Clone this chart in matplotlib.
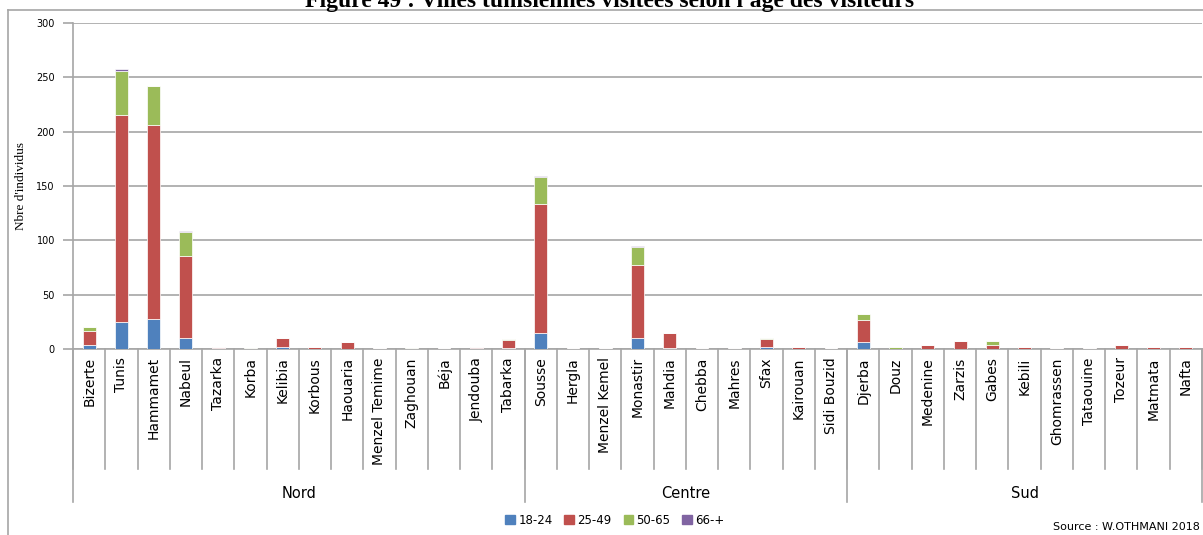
import matplotlib.pyplot as plt
import numpy as np
from matplotlib.lines import Line2D
from matplotlib.transforms import blended_transform_factory

# villes par région
nord = ['Bizerte', 'Tunis', 'Hammamet', 'Nabeul', 'Tazarka', 'Korba', 'Kelibia', 'Korbous',
        'Haouaria', 'Menzel Temime', 'Zaghouan', 'Béja', 'Jendouba', 'Tabarka']
centre = ['Sousse', 'Hergla', 'Menzel Kemel', 'Monastir', 'Mahdia', 'Chebba', 'Mahres',
          'Sfax', 'Kairouan', 'Sidi Bouzid']
sud = ['Djerba', 'Douz', 'Medenine', 'Zarzis', 'Gabes', 'Kebili', 'Ghomrassen', 'Tataouine',
       'Tozeur', 'Matmata', 'Nafta']
regions = ['Nord', 'Centre', 'Sud']

age_18_24 = [4, 25, 28, 10, 1, 0, 2, 0, 0, 0, 0, 0, 1, 1,
             15, 0, 0, 10, 1, 0, 0, 2, 0, 0,
             6, 0, 0, 0, 0, 0, 0, 0, 0, 0, 0]
age_25_49 = [13, 190, 178, 76, 1, 0, 8, 2, 6, 1, 0, 1, 1, 7,
             118, 1, 1, 67, 14, 1, 1, 7, 2, 1,
             21, 0, 4, 7, 4, 2, 1, 1, 4, 2, 2]
age_50_65 = [3, 41, 36, 22, 0, 1, 0, 0, 0, 0, 1, 0, 0, 1,
             25, 0, 0, 17, 0, 0, 0, 1, 0, 0,
             5, 2, 0, 0, 3, 0, 0, 0, 0, 0, 0]
age_66 = [0, 2, 0, 1, 0, 0, 0, 0, 0, 0, 0, 0, 0, 0,
          1, 0, 0, 1, 0, 0, 0, 0, 0, 0,
          0, 0, 0, 0, 0, 0, 0, 0, 0, 0, 0]

series = [('18-24', age_18_24, '#4F81BD'), ('25-49', age_25_49, '#C0504D'),
          ('50-65', age_50_65, '#9BBB59'), ('66-+', age_66, '#8064A2')]

cities = nord + centre + sud
x = np.arange(len(cities))

W, H = 1203, 535
fig = plt.figure(figsize=(W / 100, H / 100), dpi=100)
ax = fig.add_axes([73 / W, 1 - 349 / H, (1202 - 73) / W, (349 - 23) / H])

bottom = np.zeros(len(cities))
for name, vals, col in series:
    vals = np.array(vals, dtype=float)
    ax.bar(x, vals, 0.4, bottom=bottom, color=col, label=name,
           edgecolor='white', linewidth=0.5, zorder=3)
    bottom += vals

ax.set_xlim(-0.5, len(cities) - 0.5)
ax.set_ylim(0, 300)
ax.set_yticks(range(0, 301, 50))
ax.grid(axis='y', color='#A6A6A6', linewidth=1.2, zorder=0)
for s in ['top', 'right']:
    ax.spines[s].set_visible(False)
for s in ['left', 'bottom']:
    ax.spines[s].set_color('#A6A6A6')
    ax.spines[s].set_linewidth(1.2)
ax.tick_params(axis='y', colors='#A6A6A6', labelcolor='black', labelsize=7,
               length=7, width=1.2, pad=6)
ax.set_ylabel("Nbre d'individus", family='Liberation Serif', fontsize=9.5, labelpad=7)

# noms des villes
ax.set_xticks(x)
ax.set_xticklabels(cities, rotation=90, fontsize=10, va='top', family='DejaVu Sans')
ax.tick_params(axis='x', length=0, pad=6)

# séparateurs de catégories et de régions
trans = blended_transform_factory(ax.transData, ax.transAxes)
axh = 349 - 23
for b in np.arange(len(cities) + 1) - 0.5:
    ax.plot([b, b], [0, -120 / axh], color='#A6A6A6', lw=1.2, transform=trans, clip_on=False)
edges = np.cumsum([0, len(nord), len(centre), len(sud)]) - 0.5
for b in edges:
    ax.plot([b, b], [0, -153 / axh], color='#A6A6A6', lw=1.2, transform=trans, clip_on=False)
for i, r in enumerate(regions):
    ax.text((edges[i] + edges[i + 1]) / 2, -144 / axh, r, transform=trans,
            ha='center', va='center', fontsize=10.5)

# légende et source
handles = [plt.Rectangle((0, 0), 1, 1, color=c) for _, _, c in series]
fig.legend(handles, [n for n, _, _ in series], loc='center', bbox_to_anchor=(615 / W, 1 - 520 / H),
           ncol=4, frameon=False, fontsize=8.5, handlelength=0.8, handleheight=0.8,
           handletextpad=0.3, columnspacing=1.0)
fig.text(1200 / W, 1 - 527 / H, 'Source : W.OTHMANI 2018', ha='right', va='center', fontsize=8)

# cadre et titre
fig.add_artist(Line2D([8 / W, 1], [1 - 10 / H, 1 - 10 / H], color='#A6A6A6', lw=1.2))
fig.add_artist(Line2D([8 / W, 8 / W], [0, 1 - 10 / H], color='#A6A6A6', lw=1.2))
fig.text(610 / W, 1 - 7 / H, "Figure 49 : Villes tunisiennes visitées selon l'âge des visiteurs",
         ha='center', va='baseline', fontsize=17, fontweight='bold', family='Liberation Serif')

fig.savefig('out.png', dpi=100)
